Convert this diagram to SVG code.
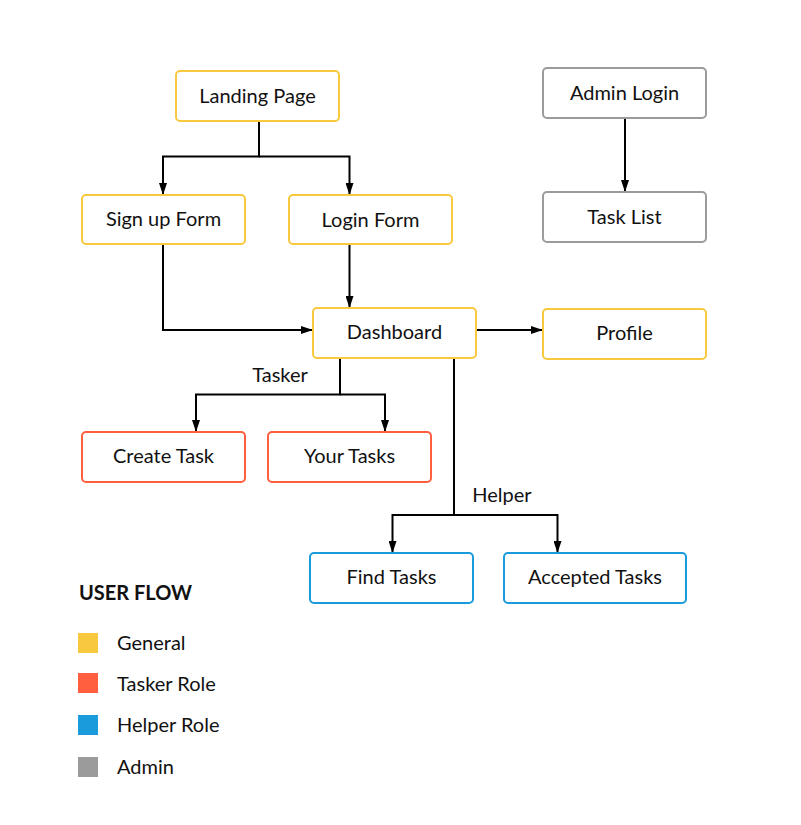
<svg xmlns="http://www.w3.org/2000/svg" width="801" height="825" viewBox="0 0 801 825">
<style>
.n rect{fill:#fff;stroke-width:2}
.g rect{stroke:#F8C83E}
.t rect{stroke:#FF5E3F}
.h rect{stroke:#1A9BDC}
.a rect{stroke:#9B9B9B}
text{font-family:Lato,"Open Sans",sans-serif;font-size:20px;fill:#111}
.n text{text-anchor:middle}
.e path{fill:none;stroke:#000;stroke-width:2}
</style>
<defs>
<marker id="ar" viewBox="0 0 12 8" refX="12" refY="4" markerWidth="12" markerHeight="8" markerUnits="userSpaceOnUse" orient="auto">
<path d="M0,0 L12,4 L0,8 Z" fill="#000"/>
</marker>
</defs>
<rect width="801" height="825" fill="#fff"/>
<g class="e">
<path d="M259,121 V156.5 H163 V195" marker-end="url(#ar)"/>
<path d="M259,156.5 H349.5 V195" marker-end="url(#ar)"/>
<path d="M163,244 V330 H313" marker-end="url(#ar)"/>
<path d="M349.5,244 V308" marker-end="url(#ar)"/>
<path d="M476,330 H543" marker-end="url(#ar)"/>
<path d="M340,358 V394.5 H196 V432" marker-end="url(#ar)"/>
<path d="M340,394.5 H385 V432" marker-end="url(#ar)"/>
<path d="M454,358 V515 H392.5 V553" marker-end="url(#ar)"/>
<path d="M454,515 H557.5 V553" marker-end="url(#ar)"/>
<path d="M625,118 V192" marker-end="url(#ar)"/>
</g>
<text x="280" y="382" text-anchor="middle">Tasker</text>
<text x="502" y="502" text-anchor="middle">Helper</text>
<g id="landing" class="n g"><rect x="176" y="71" width="163" height="50" rx="4"/><text x="257.5" y="103">Landing Page</text></g>
<g id="signup" class="n g"><rect x="82" y="195" width="163" height="49" rx="4"/><text x="163.5" y="226">Sign up Form</text></g>
<g id="login" class="n g"><rect x="289" y="195" width="163" height="49" rx="4"/><text x="370.5" y="227">Login Form</text></g>
<g id="dashboard" class="n g"><rect x="313" y="308" width="163" height="50" rx="4"/><text x="394.5" y="339">Dashboard</text></g>
<g id="profile" class="n g"><rect x="543" y="309" width="163" height="50" rx="4"/><text x="624.5" y="340">Profile</text></g>
<g id="create" class="n t"><rect x="82" y="432" width="163" height="50" rx="4"/><text x="163.5" y="463">Create Task</text></g>
<g id="yours" class="n t"><rect x="268" y="432" width="163" height="50" rx="4"/><text x="349.5" y="463">Your Tasks</text></g>
<g id="find" class="n h"><rect x="310" y="553" width="163" height="50" rx="4"/><text x="391.5" y="584">Find Tasks</text></g>
<g id="accepted" class="n h"><rect x="504" y="553" width="182" height="50" rx="4"/><text x="595" y="584">Accepted Tasks</text></g>
<g id="adminlogin" class="n a"><rect x="543" y="68" width="163" height="50" rx="4"/><text x="624.5" y="100">Admin Login</text></g>
<g id="tasklist" class="n a"><rect x="543" y="192" width="163" height="50" rx="4"/><text x="624.5" y="224">Task List</text></g>
<g id="legend">
<text x="79" y="600" style="font-weight:bold">USER FLOW</text>
<rect x="78" y="633" width="20" height="20" fill="#F8C83E"/>
<text x="117" y="650">General</text>
<rect x="78" y="673" width="20" height="20" fill="#FF5E3F"/>
<text x="117" y="691">Tasker Role</text>
<rect x="78" y="715" width="20" height="20" fill="#1A9BDC"/>
<text x="117" y="732">Helper Role</text>
<rect x="78" y="757" width="20" height="20" fill="#9B9B9B"/>
<text x="117" y="774">Admin</text>
</g>
</svg>
